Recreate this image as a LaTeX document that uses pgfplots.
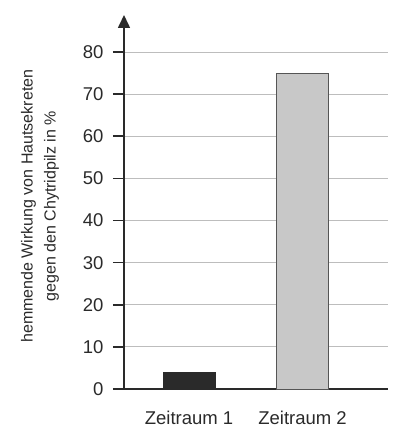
\documentclass[border=0pt]{standalone}
\usepackage{fontspec}
\setmainfont{Liberation Sans}
\usepackage{pgfplots}
\pgfplotsset{compat=1.18}
\usetikzlibrary{arrows.meta}

\definecolor{axisgray}{HTML}{2A2A2A}
\definecolor{gridgray}{HTML}{BDBDBD}
\definecolor{bardark}{HTML}{2A2A2A}
\definecolor{barlight}{HTML}{C8C8C8}

\begin{document}
\begin{tikzpicture}
  \begin{axis}[
      scale only axis,
      width=264pt, height=374pt,
      xmin=0.427, xmax=2.753,
      ymin=0, ymax=88.8,
      /pgf/number format/assume math mode=true,
      axis x line=bottom,
      axis y line=left,
      x axis line style={-, line width=1.6pt, color=axisgray},
      y axis line style={-{Triangle[width=12pt,length=13pt]}, line width=1.6pt, color=axisgray},
      xtick={1,2},
      xticklabels={Zeitraum 1, Zeitraum 2},
      xtick style={draw=none},
      xticklabel style={font=\fontsize{18.5}{20}\selectfont, color=axisgray, yshift=-8pt},
      ytick={0,10,...,80},
      ytick style={line width=1.6pt, color=axisgray},
      tick align=outside,
      major tick length=11pt,
      yticklabel style={font=\fontsize{18.5}{20}\selectfont, color=axisgray, xshift=-6pt},
      ymajorgrids,
      grid style={gridgray, line width=0.8pt},
      ylabel={hemmende Wirkung von Hautsekreten\\gegen den Chytridpilz in \%},
      ylabel style={at={(axis description cs:-0.318,0.489)}, anchor=center,
        align=center, font=\fontsize{16}{23}\selectfont, color=axisgray},
      ybar, bar width=52pt,
      clip=false,
    ]
    \addplot[ybar, bar shift=0pt, fill=bardark, draw=bardark, line width=0.8pt]
      coordinates {(1,4)};
    \addplot[ybar, bar shift=0pt, fill=barlight, draw=axisgray!80, line width=1pt]
      coordinates {(2,75)};
    \path[use as bounding box] (axis cs:0.427,0) ++(-124pt,-53pt) rectangle ++(415pt,442pt);
  \end{axis}
\end{tikzpicture}
\end{document}
